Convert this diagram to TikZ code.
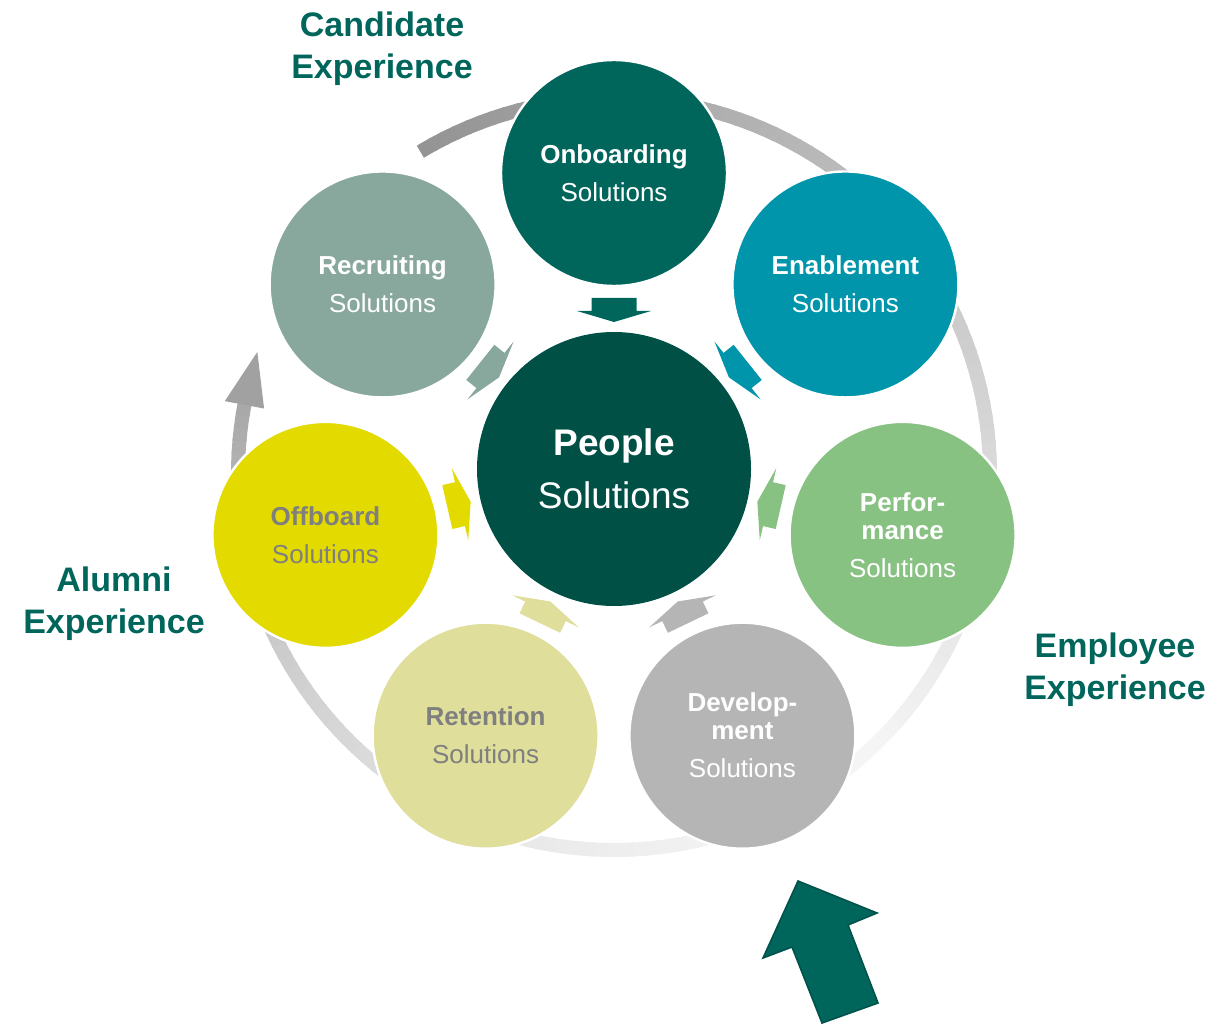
\documentclass[tikz,border=0pt]{standalone}
\usepackage{fontspec}
\setmainfont{Liberation Sans}
\definecolor{cOnb}{HTML}{00665C}
\definecolor{cEnb}{HTML}{0095AB}
\definecolor{cPrf}{HTML}{88C282}
\definecolor{cDev}{HTML}{B5B5B5}
\definecolor{cRet}{HTML}{E0DE9B}
\definecolor{cOff}{HTML}{E3DA00}
\definecolor{cRec}{HTML}{88A89E}
\definecolor{cPpl}{HTML}{005046}
\definecolor{cDark}{HTML}{00524A}
\definecolor{txtgray}{HTML}{7F7F7F}

\begin{document}
\begin{tikzpicture}[x=0.5pt,y=0.5pt,
    sol/.style={circle,minimum size=113pt,inner sep=0pt,draw=white,line width=1.2pt,
      align=center,font=\fontsize{13}{19}\selectfont\bfseries},
    exp/.style={text=cOnb,align=center,font=\fontsize{17}{21}\selectfont\bfseries}]
    \useasboundingbox (0,0) rectangle (1230,1024);
    \coordinate (ring) at (614,550);
    % shaded ring
    \foreach \a in {121,119,...,-189} {
      \pgfmathsetmacro\g{\a>-45 ? 42-38*(121-\a)/166 : 4+34*((-45-\a)/154)^2}
      \draw[line width=7pt,black!\g] ([shift={(\a:376)}]ring) arc[start angle=\a,end angle=\a-2.4,radius=376];
    }
    \fill[black!37] ([shift={(169.4:396)}]ring) -- ([shift={(161.1:377)}]ring) -- ([shift={(169.4:356)}]ring) -- cycle;
    %
    \node[circle,minimum size=137pt,inner sep=0pt,fill=cPpl,text=white,align=center,
      font=\fontsize{18.5}{26.5}\selectfont] (ppl) at (614,555) {\bfseries People\\Solutions};
    \foreach \ang/\tc/\nm/\lbl in {90/white/Onb/Onboarding, 38.57/white/Enb/Enablement,
        -12.86/white/Prf/{Perfor-\\[-5pt]mance}, -64.29/white/Dev/{Develop-\\[-5pt]ment},
        -115.71/txtgray/Ret/Retention, -167.14/txtgray/Off/Offboard, 141.43/white/Rec/Recruiting} {
      \begin{scope}[shift={(ppl.center)},rotate=\ang]
        \fill[c\nm] (171,-22.5) -- (158,-22.5) -- (158,-37) -- (147,0) -- (158,37) -- (158,22.5) -- (171,22.5) -- cycle;
      \end{scope}
      \node[sol,fill=c\nm,text=\tc] (\nm) at ([shift={(\ang:296)}]ppl.center) {\lbl\\\mdseries Solutions};
    }
    %
    \node[exp] (cand) at (382,975) {Candidate\\Experience};
    \node[exp] (alum) at (114,420) {Alumni\\Experience};
    \node[exp] (empl) at (1115,354) {Employee\\Experience};
    % entry arrow
    \filldraw[fill=cOnb,draw=cDark,line width=0.8pt] (798,143) -- (877,111) -- (848,99) -- (878,21)
      -- (822,1) -- (792,77) -- (763,66) -- cycle;
  \end{tikzpicture}
\end{document}
